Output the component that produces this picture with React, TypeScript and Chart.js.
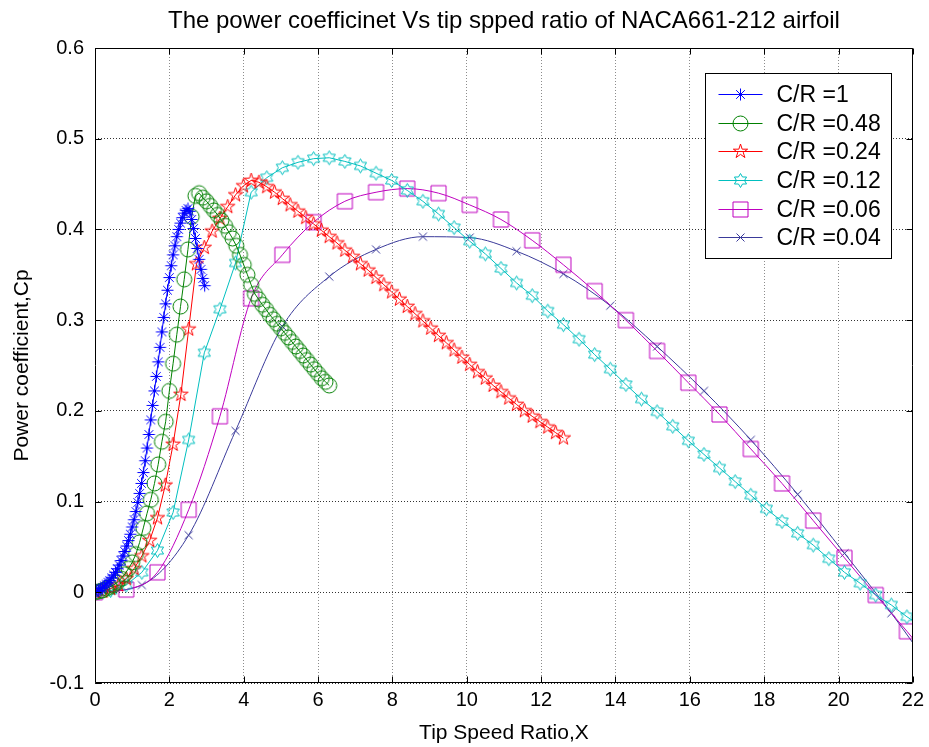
import React, { useEffect, useRef } from 'react';
import { Chart, registerables } from 'chart.js';

Chart.register(...registerables);

const TITLE = 'The power coefficinet Vs tip spped ratio of NACA661-212 airfoil';
const X_LABEL = 'Tip Speed Ratio,X';
const Y_LABEL = 'Power coefficient,Cp';

const X_MIN = 0;
const X_MAX = 22;
const X_STEP = 2;
const Y_MIN = -0.1;
const Y_MAX = 0.6;
const Y_STEP = 0.1;

const SERIES_LABELS = ['C/R =1', 'C/R =0.48', 'C/R =0.24', 'C/R =0.12', 'C/R =0.06', 'C/R =0.04'];
const SERIES_COLORS = ['#0000ff', '#008000', '#ff0000', '#00bfbf', '#bf00bf', '#3a3a9a'];
const SERIES_MARKERS = ['asterisk', 'circle', 'pentagram', 'hexagram', 'square', 'cross'];

// C/R = 1
const X_CR1 = [0, 0.05, 0.1, 0.15, 0.2, 0.25, 0.3, 0.35, 0.4, 0.45, 0.5, 0.55, 0.6, 0.65, 0.7, 0.75, 0.8, 0.85, 0.9, 0.95,
  1.0, 1.05, 1.1, 1.15, 1.2, 1.25, 1.3, 1.35, 1.4, 1.45, 1.5, 1.55, 1.6, 1.65, 1.7, 1.75, 1.8, 1.85, 1.9, 1.95,
  2.0, 2.05, 2.1, 2.15, 2.2, 2.25, 2.3, 2.35, 2.4, 2.45, 2.5, 2.55, 2.6, 2.65, 2.7, 2.75, 2.8, 2.85, 2.9, 2.95];
const Y_CR1 = [0, 0.001, 0.002, 0.004, 0.005, 0.007, 0.009, 0.011, 0.013, 0.016, 0.019, 0.022, 0.026, 0.030, 0.035, 0.040, 0.045, 0.051, 0.057, 0.064,
  0.072, 0.080, 0.089, 0.099, 0.109, 0.120, 0.132, 0.145, 0.159, 0.174, 0.190, 0.206, 0.222, 0.238, 0.254, 0.270, 0.287, 0.303, 0.318, 0.333,
  0.347, 0.360, 0.372, 0.382, 0.392, 0.400, 0.407, 0.413, 0.418, 0.421, 0.423, 0.420, 0.411, 0.401, 0.390, 0.379, 0.367, 0.356, 0.346, 0.338];

// C/R = 0.48
const X_CR048 = [0, 0.1, 0.2, 0.3, 0.4, 0.5, 0.6, 0.7, 0.8, 0.9, 1.0, 1.1, 1.2, 1.3, 1.4, 1.5, 1.6, 1.7, 1.8, 1.9,
  2.0, 2.1, 2.2, 2.3, 2.4, 2.5, 2.6, 2.7, 2.8, 2.9, 3.0, 3.1, 3.2, 3.3, 3.4, 3.5, 3.6, 3.7, 3.8, 3.9,
  4.0, 4.1, 4.2, 4.3, 4.4, 4.5, 4.6, 4.7, 4.8, 4.9, 5.0, 5.1, 5.2, 5.3, 5.4, 5.5, 5.6, 5.7, 5.8, 5.9, 6.0, 6.1, 6.2, 6.3];
const Y_CR048 = [0, 0.001, 0.002, 0.004, 0.006, 0.008, 0.011, 0.015, 0.020, 0.026, 0.033, 0.042, 0.055, 0.071, 0.087, 0.102, 0.120, 0.141, 0.166, 0.188,
  0.222, 0.252, 0.284, 0.315, 0.345, 0.378, 0.414, 0.437, 0.440, 0.435, 0.431, 0.426, 0.421, 0.416, 0.410, 0.404, 0.397, 0.390, 0.382, 0.372,
  0.361, 0.350, 0.339, 0.329, 0.323, 0.317, 0.312, 0.306, 0.301, 0.296, 0.291, 0.286, 0.281, 0.276, 0.271, 0.266, 0.261, 0.256, 0.251, 0.246, 0.241, 0.236, 0.232, 0.228];

// C/R = 0.24
const X_CR024 = [0, 0.21, 0.42, 0.63, 0.84, 1.05, 1.26, 1.47, 1.68, 1.89, 2.1, 2.31, 2.52, 2.73, 2.94, 3.15, 3.36, 3.57, 3.78, 3.99,
  4.2, 4.41, 4.62, 4.83, 5.04, 5.25, 5.46, 5.67, 5.88, 6.09, 6.3, 6.51, 6.72, 6.93, 7.14, 7.35, 7.56, 7.77, 7.98, 8.19,
  8.4, 8.61, 8.82, 9.03, 9.24, 9.45, 9.66, 9.87, 10.08, 10.29, 10.5, 10.71, 10.92, 11.13, 11.34, 11.55, 11.76, 11.97, 12.18, 12.39, 12.6];
const Y_CR024 = [0, 0.001, 0.004, 0.008, 0.015, 0.026, 0.040, 0.057, 0.082, 0.118, 0.163, 0.218, 0.290, 0.362, 0.380, 0.398, 0.412, 0.425, 0.438, 0.448,
  0.454, 0.452, 0.447, 0.441, 0.434, 0.427, 0.420, 0.413, 0.406, 0.399, 0.392, 0.385, 0.377, 0.370, 0.362, 0.355, 0.347, 0.339, 0.331, 0.323,
  0.315, 0.307, 0.299, 0.291, 0.283, 0.275, 0.267, 0.259, 0.251, 0.243, 0.236, 0.228, 0.221, 0.214, 0.207, 0.200, 0.194, 0.188, 0.182, 0.176, 0.170];

// C/R = 0.12
const X_CR012 = [0, 0.42, 0.84, 1.26, 1.68, 2.1, 2.52, 2.94, 3.36, 3.78, 4.2, 4.62, 5.04, 5.46, 5.88, 6.3, 6.72, 7.14, 7.56, 7.98,
  8.4, 8.82, 9.24, 9.66, 10.08, 10.5, 10.92, 11.34, 11.76, 12.18, 12.6, 13.02, 13.44, 13.86, 14.28, 14.7, 15.12, 15.54, 15.96, 16.38,
  16.8, 17.22, 17.64, 18.06, 18.48, 18.9, 19.32, 19.74, 20.16, 20.58, 21.0, 21.42, 21.84, 22.26];
const Y_CR012 = [0, 0.002, 0.008, 0.022, 0.046, 0.088, 0.168, 0.264, 0.312, 0.363, 0.441, 0.457, 0.468, 0.474, 0.478, 0.479, 0.475, 0.470, 0.462, 0.454,
  0.443, 0.431, 0.417, 0.402, 0.387, 0.373, 0.357, 0.341, 0.327, 0.310, 0.295, 0.279, 0.262, 0.246, 0.229, 0.213, 0.199, 0.183, 0.167, 0.152,
  0.137, 0.122, 0.107, 0.092, 0.078, 0.065, 0.052, 0.037, 0.022, 0.010, -0.003, -0.014, -0.027, -0.038];

// C/R = 0.06
const X_CR006 = [0, 0.84, 1.68, 2.52, 3.36, 4.2, 5.04, 5.88, 6.72, 7.56, 8.4, 9.24, 10.08, 10.92, 11.76, 12.6, 13.44, 14.28, 15.12, 15.96,
  16.8, 17.64, 18.48, 19.32, 20.16, 21.0, 21.84, 22.68];
const Y_CR006 = [0, 0.003, 0.022, 0.091, 0.194, 0.324, 0.372, 0.408, 0.431, 0.441, 0.445, 0.440, 0.427, 0.411, 0.388, 0.361, 0.332, 0.300, 0.266, 0.231,
  0.196, 0.158, 0.120, 0.079, 0.038, -0.003, -0.043, -0.085];

// C/R = 0.04
const X_CR004 = [0, 1.26, 2.52, 3.78, 5.04, 6.3, 7.56, 8.82, 10.08, 11.34, 12.6, 13.86, 15.12, 16.38, 17.64, 18.9, 20.16, 21.42, 22.68];
const Y_CR004 = [0, 0.008, 0.063, 0.178, 0.293, 0.348, 0.378, 0.392, 0.391, 0.376, 0.351, 0.316, 0.271, 0.222, 0.168, 0.108, 0.043, -0.023, -0.095];

const SERIES_X = [X_CR1, X_CR048, X_CR024, X_CR012, X_CR006, X_CR004];
const SERIES_Y = [Y_CR1, Y_CR048, Y_CR024, Y_CR012, Y_CR006, Y_CR004];
const SERIES_SMOOTH = [false, false, false, false, true, true];

const FONT = 'Liberation Sans, Arial, Helvetica, sans-serif';

function makeMarker(kind: string, color: string): HTMLCanvasElement {
  const s = 23;
  const c = document.createElement('canvas');
  c.width = s;
  c.height = s;
  const g = c.getContext('2d') as CanvasRenderingContext2D;
  g.strokeStyle = color;
  g.lineWidth = 1;
  g.translate(11.5, 11.5);
  g.beginPath();
  if (kind === 'asterisk') {
    const r = 6;
    const d = r * 0.72;
    g.moveTo(-r, 0); g.lineTo(r, 0);
    g.moveTo(0, -r); g.lineTo(0, r);
    g.moveTo(-d, -d); g.lineTo(d, d);
    g.moveTo(-d, d); g.lineTo(d, -d);
  } else if (kind === 'circle') {
    g.arc(0, 0, 7.5, 0, Math.PI * 2);
  } else if (kind === 'pentagram') {
    const R = 7.5;
    const r = R * 0.382;
    for (let i = 0; i < 10; i++) {
      const a = -Math.PI / 2 + (i * Math.PI) / 5;
      const rr = i % 2 === 0 ? R : r;
      const px = Math.cos(a) * rr;
      const py = Math.sin(a) * rr;
      if (i === 0) g.moveTo(px, py); else g.lineTo(px, py);
    }
    g.closePath();
  } else if (kind === 'hexagram') {
    const R = 7;
    const r = R * 0.577;
    for (let i = 0; i < 12; i++) {
      const a = -Math.PI / 2 + (i * Math.PI) / 6;
      const rr = i % 2 === 0 ? R : r;
      const px = Math.cos(a) * rr;
      const py = Math.sin(a) * rr;
      if (i === 0) g.moveTo(px, py); else g.lineTo(px, py);
    }
    g.closePath();
  } else if (kind === 'square') {
    g.rect(-7.5, -7.5, 15, 15);
  } else if (kind === 'cross') {
    const r = 4;
    g.moveTo(-r, -r); g.lineTo(r, r);
    g.moveTo(-r, r); g.lineTo(r, -r);
  }
  g.stroke();
  return c;
}

const axesBoxPlugin = {
  id: 'axesBox',
  afterDatasetsDraw(chart: any) {
    const { ctx, chartArea: a, scales } = chart;
    const L = Math.round(a.left) + 0.5;
    const R = Math.round(a.right) - 0.5;
    const T = Math.round(a.top) + 0.5;
    const B = Math.round(a.bottom) - 0.5;
    const tl = 6;
    ctx.save();
    ctx.strokeStyle = '#000';
    ctx.lineWidth = 1;
    ctx.beginPath();
    ctx.rect(L, T, R - L, B - T);
    scales.x.ticks.forEach((t: any) => {
      const px = Math.round(scales.x.getPixelForValue(t.value)) + 0.5;
      ctx.moveTo(px, B); ctx.lineTo(px, B - tl);
      ctx.moveTo(px, T); ctx.lineTo(px, T + tl);
    });
    scales.y.ticks.forEach((t: any) => {
      const py = Math.round(scales.y.getPixelForValue(t.value)) + 0.5;
      ctx.moveTo(L, py); ctx.lineTo(L + tl, py);
      ctx.moveTo(R, py); ctx.lineTo(R - tl, py);
    });
    ctx.stroke();
    ctx.restore();
  },
};

const legendBoxPlugin = {
  id: 'legendBox',
  afterDraw(chart: any) {
    const { ctx, chartArea: a } = chart;
    const w = 186;
    const h = 185;
    const left = Math.round(a.right - 22 - w) + 0.5;
    const top = Math.round(a.top + 25) + 0.5;
    ctx.save();
    ctx.fillStyle = '#ffffff';
    ctx.fillRect(left, top, w, h);
    ctx.strokeStyle = '#000';
    ctx.lineWidth = 1;
    ctx.strokeRect(left, top, w, h);
    ctx.font = `23px ${FONT}`;
    ctx.textBaseline = 'middle';
    ctx.textAlign = 'left';
    chart.data.datasets.forEach((ds: any, i: number) => {
      const cy = Math.round(top + 20.3 + 28.7 * i) + 0.5;
      ctx.strokeStyle = ds.borderColor;
      ctx.lineWidth = 1;
      ctx.beginPath();
      ctx.moveTo(left + 13, cy);
      ctx.lineTo(left + 57, cy);
      ctx.stroke();
      const img = ds.pointStyle as HTMLCanvasElement;
      ctx.drawImage(img, left + 35 - img.width / 2, cy - img.height / 2);
      ctx.fillStyle = '#000';
      ctx.fillText(ds.label, left + 71, cy + 1);
    });
    ctx.restore();
  },
};

function fmtTick(v: number | string) {
  const n = Math.round(Number(v) * 10) / 10;
  return Math.abs(n) < 1e-9 ? '0' : String(n);
}

export default function App() {
  const canvasRef = useRef<HTMLCanvasElement | null>(null);

  useEffect(() => {
    const canvas = canvasRef.current;
    if (!canvas) return;
    const datasets = SERIES_LABELS.map((label, i) => ({
      label,
      data: SERIES_X[i].map((x, j) => ({ x, y: SERIES_Y[i][j] })),
      borderColor: SERIES_COLORS[i],
      backgroundColor: 'rgba(0,0,0,0)',
      borderWidth: 1,
      showLine: true,
      pointStyle: makeMarker(SERIES_MARKERS[i], SERIES_COLORS[i]) as any,
      pointRadius: 6,
      pointHoverRadius: 6,
      cubicInterpolationMode: SERIES_SMOOTH[i] ? 'monotone' : 'default',
      tension: 0,
    }));

    const chart = new Chart(canvas, {
      type: 'scatter',
      data: { datasets: datasets as any },
      plugins: [axesBoxPlugin, legendBoxPlugin],
      options: {
        responsive: false,
        animation: false,
        layout: { padding: { left: 0, right: 16, top: 0, bottom: 0 } },
        plugins: {
          legend: { display: false },
          tooltip: { enabled: false },
          title: {
            display: true,
            fullSize: false,
            text: TITLE,
            color: '#000',
            font: { family: FONT, size: 24, weight: 'normal' as any, lineHeight: 1.2 },
            padding: { top: 7, bottom: 12.2 },
          },
        },
        scales: {
          x: {
            type: 'linear',
            min: X_MIN,
            max: X_MAX,
            afterFit: (scale: any) => { scale.height = 64; },
            ticks: {
              stepSize: X_STEP,
              color: '#000',
              font: { family: FONT, size: 20 },
              padding: 5,
              maxRotation: 0,
              autoSkip: false,
              callback: (v: any) => fmtTick(v),
            },
            grid: { color: 'rgba(0,0,0,0.45)', lineWidth: 1, drawTicks: false },
            border: { display: false, dash: [1, 2] },
            title: {
              display: true,
              text: X_LABEL,
              color: '#000',
              font: { family: FONT, size: 21, lineHeight: 1.2 },
              padding: { top: 0, bottom: 1.4 },
            },
          },
          y: {
            type: 'linear',
            min: Y_MIN,
            max: Y_MAX,
            afterFit: (scale: any) => { scale.width = 95; },
            ticks: {
              stepSize: Y_STEP,
              color: '#000',
              font: { family: FONT, size: 20 },
              padding: 11,
              callback: (v: any) => fmtTick(v),
            },
            grid: { color: 'rgba(0,0,0,0.8)', lineWidth: 1, drawTicks: false },
            border: { display: false, dash: [1, 2] },
            title: {
              display: true,
              text: Y_LABEL,
              color: '#000',
              font: { family: FONT, size: 21, lineHeight: 1.2 },
              padding: { top: 9.4, bottom: 0 },
            },
          },
        },
      },
    });
    return () => chart.destroy();
  }, []);

  return (
    <div style={{ position: 'absolute', left: 0, top: 0, width: 929, height: 747, background: '#fff' }}>
      <canvas ref={canvasRef} width={929} height={747} style={{ display: 'block' }} />
    </div>
  );
}
